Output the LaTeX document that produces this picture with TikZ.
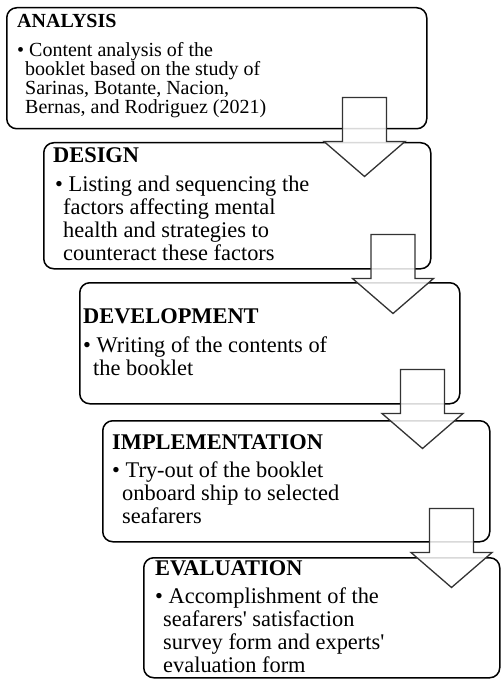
\documentclass[tikz,border=0pt]{standalone}
\usepackage{fontspec}
\setmainfont{Liberation Serif}
\usetikzlibrary{calc}

\begin{document}
\begin{tikzpicture}[x = 1pt, y = -1pt,
    stage/.style={rectangle, draw, line width=1.5pt, rounded corners=10pt, anchor=north west, inner sep=0pt},
    stagetext/.style={anchor=north west, inner sep=0pt, align=left, font=\fontsize{22.4}{22.8}\selectfont},
    downarrow/.pic={\draw[draw=black!80, line width=1.3pt, fill=white, fill opacity=0.85]
        (-22,0) -- (22,0) -- (22,44) -- (40.5,44) -- (0,79) -- (-40.5,44) -- (-22,44) -- cycle;}]
        \useasboundingbox (0,0) rectangle (501,679);

        \node[stage, minimum width=420pt, minimum height=121pt] at (6, 7) (analysis) {};
        \node[stage, minimum width=387pt, minimum height=126pt] at (43, 142) (design) {};
        \node[stage, minimum width=380pt, minimum height=121pt] at (79, 282) (development) {};
        \node[stage, minimum width=387pt, minimum height=121pt] at (102, 420) (implementation) {};
        \node[stage, minimum width=356pt, minimum height=120pt] at (143, 557) (evaluation) {};

        \node[stagetext, font=\fontsize{20}{19}\selectfont] at (17, 14.5) (analysistext) {\textbf{ANALYSIS}\\[10pt]
            \textbullet\ Content analysis of the\\
            \hspace*{8pt}booklet based on the study of\\
            \hspace*{8pt}Sarinas, Botante, Nacion,\\
            \hspace*{8pt}Bernas, and Rodriguez (2021)};
        \node[stagetext] at (53, 147) (designtext) {\textbf{DESIGN}\\[7pt]
            \hspace*{2pt}\textbullet\ Listing and sequencing the\\
            \hspace*{10pt}factors affecting mental\\
            \hspace*{10pt}health and strategies to\\
            \hspace*{10pt}counteract these factors};
        \node[stagetext] at (83, 308) (developmenttext) {\textbf{DEVELOPMENT}\\[7pt]
            \textbullet\ Writing of the contents of\\
            \hspace*{10pt}the booklet};
        \node[stagetext] at (112, 434) (implementationtext) {\textbf{IMPLEMENTATION}\\[6pt]
            \textbullet\ Try-out of the booklet\\
            \hspace*{10pt}onboard ship to selected\\
            \hspace*{10pt}seafarers};
        \node[stagetext] at (155, 560) (evaluationtext) {\textbf{EVALUATION}\\[6pt]
            \textbullet\ Accomplishment of the\\
            \hspace*{8pt}seafarers\textquotesingle{} satisfaction\\
            \hspace*{8pt}survey form and experts\textquotesingle\\
            \hspace*{8pt}evaluation form};

        \pic at ($(analysis.south east)+(-63,-32)$) {downarrow};
        \pic at ($(design.south east)+(-38.5,-35)$) {downarrow};
        \pic at ($(development.south east)+(-38,-35)$) {downarrow};
        \pic at ($(implementation.south east)+(-39,-34)$) {downarrow};
        \end{tikzpicture}
\end{document}
